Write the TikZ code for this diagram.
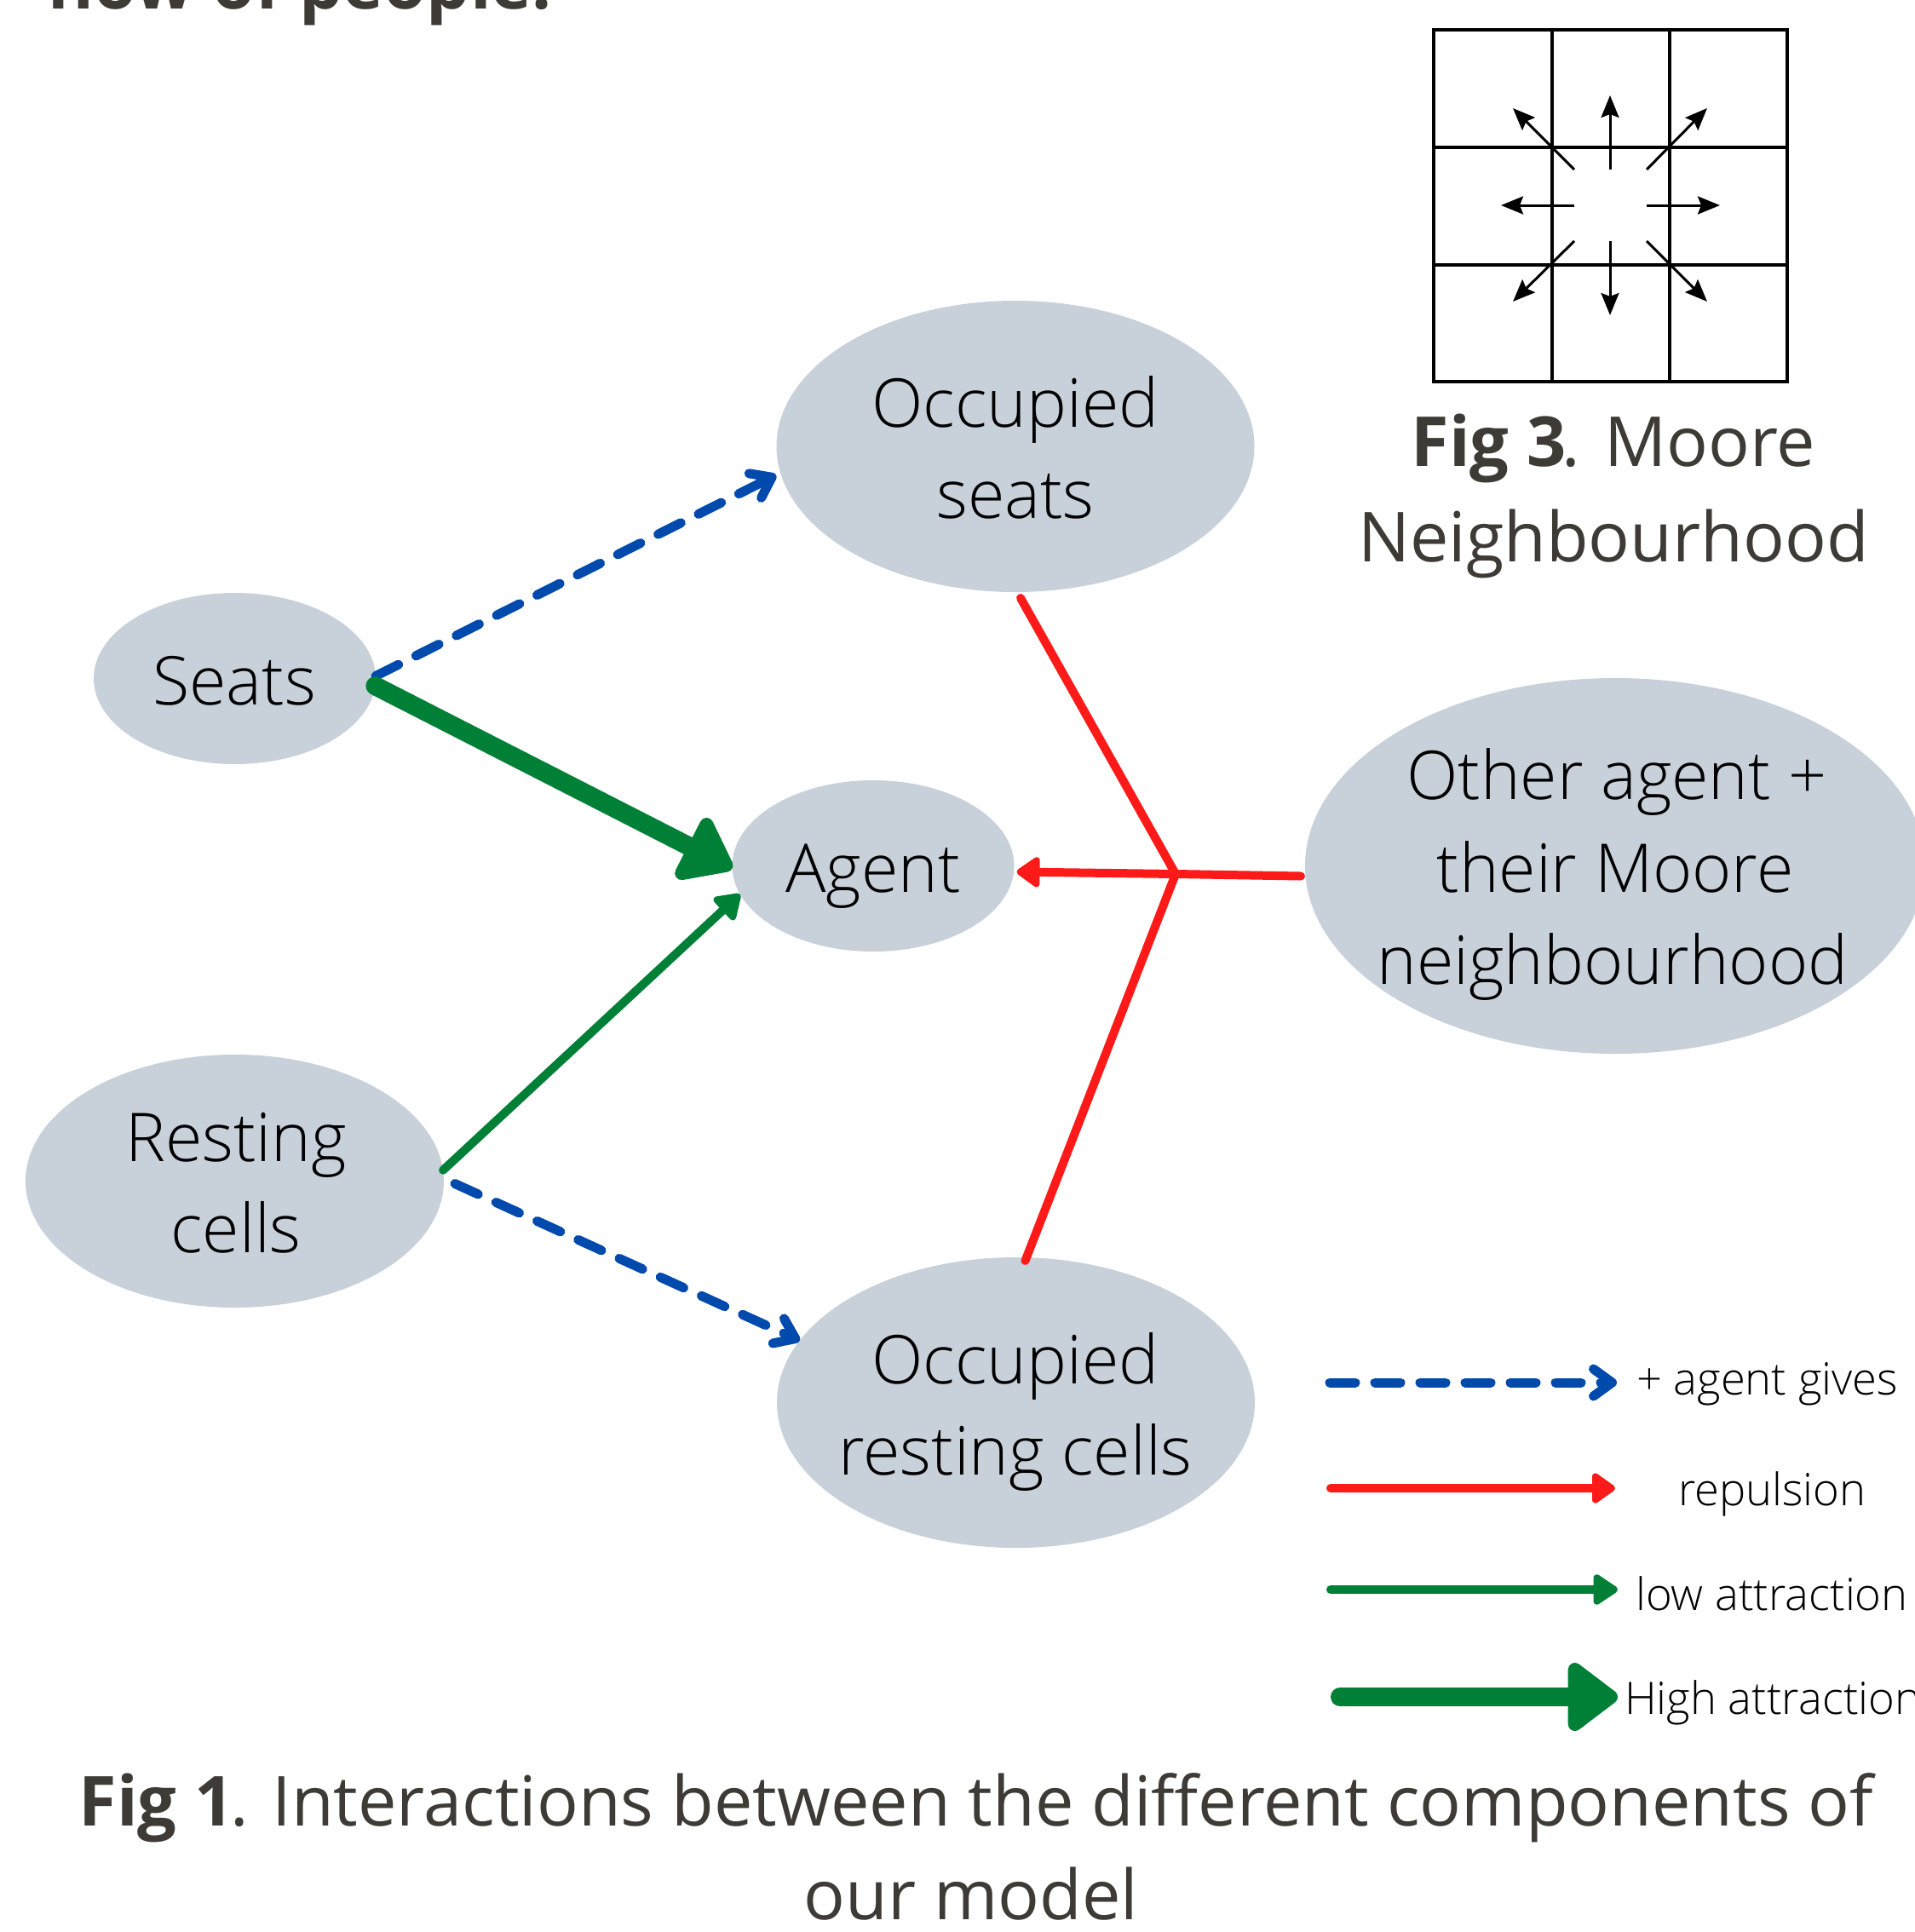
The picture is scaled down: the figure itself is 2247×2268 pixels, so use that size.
\documentclass[tikz,border=0pt]{standalone}
\usepackage{fontspec}
\setmainfont{Open Sans}
\newfontfamily\lightfont{Open Sans Light}
\usetikzlibrary{arrows.meta,shapes.geometric}
\definecolor{ellfill}{RGB}{200,208,218}
\definecolor{cblue}{RGB}{0,74,173}
\definecolor{cred}{RGB}{255,26,26}
\definecolor{cgreen}{RGB}{0,128,55}
\definecolor{ctext}{RGB}{62,58,54}
\begin{document}
\begin{tikzpicture}[x=1pt,y=-1pt,
  ell/.style={ellipse, fill=ellfill, draw=none, inner sep=0pt, outer sep=0pt},
  nodetxt/.style={anchor=base, inner sep=0pt, font=\lightfont\fontsize{79}{108}\selectfont, text=black},
  legtxt/.style={anchor=base west, inner sep=0pt, font=\lightfont\fontsize{52.5}{62}\selectfont, text=black},
  captxt/.style={anchor=base, inner sep=0pt, font=\fontsize{81}{110}\selectfont, text=ctext},
  give/.style={draw=cblue, line width=11pt, line cap=round, dash pattern=on 30pt off 23pt, -{Straight Barb[length=22pt,width=32pt,round]}},
  rep/.style={draw=cred, line width=10pt, line cap=round, line join=round},
  repar/.style={rep, -{Triangle[length=30pt,width=40pt,round]}},
  lowatt/.style={draw=cgreen, line width=10pt, line cap=round, -{Triangle[length=32pt,width=40pt,round]}},
  highatt/.style={draw=cgreen, line width=22pt, line cap=round, -{Triangle[length=64pt,width=92pt,round]}},
  mooregrid/.style={draw=black, line width=4pt},
  moorearr/.style={draw=black, line width=3pt, -{Stealth[length=26pt,width=21pt,inset=4pt]}},
]
\useasboundingbox[fill=white] (0,0) rectangle (2247,2268);

% top cut-off text
\node[captxt, anchor=base west] (toptext) at (54,10) {\bfseries flow of people.};

% ellipses
\node[ell, minimum width=561pt, minimum height=342pt] (os) at (1192,524) {};
\node[ell, minimum width=331pt, minimum height=201pt] (seats) at (275.5,796.5) {};
\node[ell, minimum width=331pt, minimum height=201pt] (agent) at (1025,1016.5) {};
\node[ell, minimum width=491pt, minimum height=297pt] (rc) at (275.5,1386.5) {};
\node[ell, minimum width=561pt, minimum height=341pt] (orc) at (1192.5,1646.5) {};
\node[ell, minimum width=728pt, minimum height=441pt] (oa) at (1896,1016.5) {};

% node texts
\node[nodetxt] (os-l1) at (1192,501) {Occupied};
\node[nodetxt] (os-l2) at (1192,608) {seats};
\node[nodetxt] (seats-l1) at (275,827) {Seats};
\node[nodetxt] (agent-l1) at (1025,1047) {Agent};
\node[nodetxt] (rc-l1) at (277,1363) {Resting};
\node[nodetxt] (rc-l2) at (277,1470) {cells};
\node[nodetxt] (orc-l1) at (1192,1624) {Occupied};
\node[nodetxt] (orc-l2) at (1192,1731) {resting cells};
\node[nodetxt] (oa-l1) at (1898,938) {Other agent +};
\node[nodetxt] (oa-l2) at (1896,1047) {their Moore};
\node[nodetxt] (oa-l3) at (1893,1155) {neighbourhood};

% connectors
\draw[give] (seats.1) -- ([xshift=-6pt]os.187);
\draw[highatt] (seats.-3) -- (agent.181);
\draw[lowatt] (rc.3) -- (agent.192);
\draw[give] ([shift={(13,3)}]rc.east) -- (orc.164);
\coordinate (J) at (1380,1026);
\draw[rep] ([shift={(6,7)}]os.south) -- (J) -- ([shift={(11,4)}]orc.north);
\draw[repar] ([shift={(-5,12)}]oa.west) -- (J) -- ([shift={(3,7)}]agent.east);

% Moore neighbourhood grid
\draw[mooregrid] (1683,35) rectangle (2098,448);
\draw[mooregrid] (1822,35) -- (1822,448) (1960,35) -- (1960,448)
  (1683,173) -- (2098,173) (1683,311) -- (2098,311);
\draw[moorearr] (1890,199) -- (1890,112);
\draw[moorearr] (1890,283) -- (1890,370);
\draw[moorearr] (1848,241) -- (1762,241);
\draw[moorearr] (1933,241) -- (2019,241);
\draw[moorearr] (1848,199) -- (1776,127);
\draw[moorearr] (1933,199) -- (2004,127);
\draw[moorearr] (1848,283) -- (1776,354);
\draw[moorearr] (1933,283) -- (2004,354);
\node[captxt] (fig3a) at (1894,547) {\textbf{Fig 3}\kern-5pt. Moore};
\node[captxt] (fig3b) at (1894,659) {Neighbourhood};

% legend
\coordinate (lg1a) at (1561,1623); \coordinate (lg1b) at (1898,1623);
\coordinate (lg2a) at (1562,1747); \coordinate (lg2b) at (1896,1747);
\coordinate (lg3a) at (1562,1866); \coordinate (lg3b) at (1899,1866);
\coordinate (lg4a) at (1573,1992); \coordinate (lg4b) at (1899,1992);
\draw[give] (lg1a) -- (lg1b);
\draw[repar] (lg2a) -- (lg2b);
\draw[lowatt] (lg3a) -- (lg3b);
\draw[highatt] (lg4a) -- (lg4b);
\node[legtxt] (lt1) at (1921,1637) {+ agent gives};
\node[legtxt] (lt2) at (1970,1767) {repulsion};
\node[legtxt] (lt3) at (1920,1890) {low attraction};
\node[legtxt] (lt4) at (1907,2012) {High attraction};

% figure caption
\node[captxt] (fig1a) at (1146,2143) {\textbf{Fig 1}\kern-5pt. Interactions between the different components of};
\node[captxt] (fig1b) at (1140,2253) {our model};
\end{tikzpicture}
\end{document}
